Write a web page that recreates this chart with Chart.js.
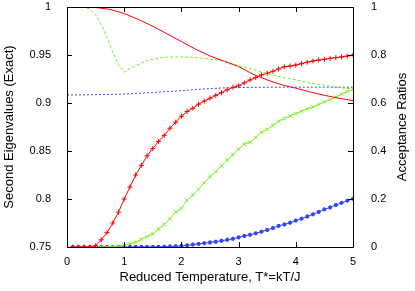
<!DOCTYPE html>
<html>
<head>
<meta charset="utf-8">
<script src="https://cdn.jsdelivr.net/npm/chart.js@4"></script>
<style>
html,body{margin:0;padding:0;background:#fff;}
#wrap{width:415px;height:291px;position:relative;}
</style>
</head>
<body>
<div id="wrap"><canvas id="c" width="415" height="291"></canvas></div>
<script>
// ---- Data ----
// Second eigenvalues (left axis)
const tEigRed = [0, 0.25, 0.5, 0.75, 1.0, 1.25, 1.5, 1.75, 2.0, 2.25, 2.5, 2.75, 3.0, 3.25, 3.5, 3.75, 4.0, 4.25, 4.5, 4.75, 5.0];
const eigRed  = [1.0, 1.0, 0.9995, 0.9975, 0.9932, 0.987, 0.980, 0.972, 0.964, 0.956, 0.949, 0.9435, 0.938, 0.930, 0.924, 0.919, 0.9155, 0.9115, 0.908, 0.905, 0.9024];

const tEigGreen = [0, 0.2, 0.3, 0.4, 0.5, 0.6, 0.7, 0.8, 0.9, 1.0, 1.1, 1.2, 1.4, 1.6, 1.8, 2.0, 2.2, 2.4, 2.6, 2.8, 3.0, 3.25, 3.5, 3.75, 4.0, 4.25, 4.5, 4.75, 5.0];
const eigGreen  = [1.0, 1.0, 0.9995, 0.998, 0.992, 0.982, 0.968, 0.953, 0.940, 0.932, 0.936, 0.939, 0.944, 0.947, 0.948, 0.948, 0.9476, 0.9465, 0.945, 0.9424, 0.939, 0.935, 0.9305, 0.927, 0.924, 0.921, 0.9185, 0.916, 0.9146];

const tEigBlue = [0, 0.5, 1.0, 1.5, 2.0, 2.5, 3.0, 3.5, 4.0, 4.5, 5.0];
const eigBlue  = [0.9083, 0.9087, 0.9093, 0.911, 0.9128, 0.915, 0.9162, 0.9164, 0.9165, 0.9165, 0.9165];

// Acceptance ratios (right axis)
const tAcc = [0.1,0.2,0.3,0.4,0.5,0.6,0.7,0.8,0.9,1.0,1.1,1.2,1.3,1.4,1.5,1.6,1.7,1.8,1.9,2.0,2.1,2.2,2.3,2.4,2.5,2.6,2.7,2.8,2.9,3.0,3.1,3.2,3.3,3.4,3.5,3.6,3.7,3.8,3.9,4.0,4.1,4.2,4.3,4.4,4.5,4.6,4.7,4.8,4.9,5.0];
const accRed = [0,0,0,0,0.005,0.03,0.06,0.10,0.145,0.20,0.25,0.30,0.34,0.38,0.41,0.44,0.465,0.495,0.52,0.545,0.565,0.578,0.595,0.608,0.62,0.632,0.643,0.655,0.665,0.672,0.684,0.696,0.706,0.717,0.724,0.732,0.742,0.751,0.754,0.758,0.764,0.77,0.775,0.779,0.782,0.786,0.789,0.792,0.796,0.80];
const accGreen = [0,0,0,0,0,0,0,0.002,0.004,0.008,0.013,0.02,0.032,0.043,0.055,0.075,0.094,0.118,0.146,0.16,0.196,0.217,0.24,0.268,0.293,0.314,0.338,0.362,0.385,0.408,0.429,0.436,0.457,0.478,0.49,0.507,0.524,0.535,0.546,0.556,0.566,0.575,0.584,0.594,0.604,0.614,0.625,0.637,0.647,0.657];
const accBlue = [0,0,0,0,0,0,0,0,0,0,0,0,0,0,0,0,0.001,0.002,0.003,0.004,0.007,0.01,0.013,0.016,0.019,0.022,0.026,0.03,0.034,0.04,0.046,0.051,0.057,0.064,0.071,0.079,0.088,0.094,0.101,0.11,0.118,0.127,0.136,0.146,0.157,0.165,0.175,0.184,0.193,0.201];

// Axis text
const xTitle = 'Reduced Temperature, T*=kT/J';
const yTitle = 'Second Eigenvalues (Exact)';
const y2Title = 'Acceptance Ratios';

const RED = '#ff0000', GREEN = '#77ee22', BLUE = '#3344ff';
const FONT = "'Liberation Sans', Arial, Helvetica, sans-serif";

function pts(xs, ys){ return xs.map((x,i)=>({x:x, y:ys[i]})); }
function fmt(v){ return String(parseFloat(Number(v).toFixed(2))); }
function noPad(s){ s.paddingTop = 0; s.paddingBottom = 0; s.paddingLeft = 0; s.paddingRight = 0; }

const framePlugin = {
  id: 'frame',
  afterDraw(chart){
    const ctx = chart.ctx, a = chart.chartArea;
    const sx = chart.scales.x, sy = chart.scales.y, sy2 = chart.scales.y1;
    ctx.save();
    ctx.strokeStyle = '#000';
    ctx.lineWidth = 1;
    ctx.beginPath();
    ctx.rect(Math.round(a.left)+0.5, Math.round(a.top)+0.5, Math.round(a.right-a.left), Math.round(a.bottom-a.top));
    ctx.stroke();
    const L = 5;
    ctx.beginPath();
    sx.ticks.forEach(t=>{
      const px = Math.round(sx.getPixelForValue(t.value))+0.5;
      ctx.moveTo(px, a.bottom); ctx.lineTo(px, a.bottom-L);
      ctx.moveTo(px, a.top); ctx.lineTo(px, a.top+L);
    });
    sy.ticks.forEach(t=>{
      const py = Math.round(sy.getPixelForValue(t.value))+0.5;
      ctx.moveTo(a.left, py); ctx.lineTo(a.left+L, py);
    });
    sy2.ticks.forEach(t=>{
      const py = Math.round(sy2.getPixelForValue(t.value))+0.5;
      ctx.moveTo(a.right, py); ctx.lineTo(a.right-L, py);
    });
    ctx.stroke();
    // right axis title, reading bottom to top
    ctx.fillStyle = '#000';
    ctx.font = '13px ' + FONT;
    ctx.textAlign = 'center';
    ctx.textBaseline = 'middle';
    ctx.translate(402, (a.top+a.bottom)/2);
    ctx.rotate(-Math.PI/2);
    ctx.fillText(y2Title, 0, 0);
    ctx.restore();
  }
};

new Chart(document.getElementById('c'), {
  type: 'line',
  data: {
    datasets: [
      {data: pts(tEigRed, eigRed), yAxisID:'y', borderColor: RED, borderWidth:1, pointRadius:0, fill:false},
      {data: pts(tEigGreen, eigGreen), yAxisID:'y', borderColor: GREEN, borderWidth:1, borderDash:[3,2], pointRadius:0, fill:false},
      {data: pts(tEigBlue, eigBlue), yAxisID:'y', borderColor: BLUE, borderWidth:1, borderDash:[2,2], pointRadius:0, fill:false, cubicInterpolationMode:'monotone'},
      {data: pts(tAcc, accRed), yAxisID:'y1', borderColor: RED, backgroundColor: RED, borderWidth:1, pointStyle:'cross', pointRadius:2.5, pointBorderWidth:1, fill:false},
      {data: pts(tAcc, accGreen), yAxisID:'y1', borderColor: GREEN, backgroundColor: GREEN, borderWidth:1, pointStyle:'crossRot', pointRadius:2.5, pointBorderWidth:1, fill:false},
      {data: pts(tAcc, accBlue), yAxisID:'y1', borderColor: BLUE, backgroundColor: BLUE, borderWidth:1, pointStyle:'star', pointRadius:2, pointBorderWidth:1.5, fill:false}
    ]
  },
  options: {
    responsive: false,
    animation: false,
    events: [],
    layout: { padding: {top: 7, left: 0, right: 0, bottom: 0} },
    plugins: { legend: {display:false}, tooltip: {enabled:false} },
    scales: {
      x: {
        type: 'linear', min: 0, max: 5,
        grid: {display:false}, border: {display:false},
        ticks: {stepSize: 1, color:'#000', padding: 0, font:{family:FONT, size:11}, maxRotation:0, callback: fmt},
        title: {display:true, text:xTitle, color:'#000', font:{family:FONT, size:13}, padding:{top:0,bottom:6}},
        afterFit(s){ s.height = 44; noPad(s); }
      },
      y: {
        position:'left', min: 0.75, max: 1,
        grid: {display:false}, border: {display:false},
        ticks: {stepSize: 0.05, color:'#000', padding: 8, font:{family:FONT, size:11}, callback: fmt},
        title: {display:true, text:yTitle, color:'#000', font:{family:FONT, size:13}, padding:{top:2,bottom:0}},
        afterFit(s){ s.width = 67; noPad(s); }
      },
      y1: {
        position:'right', min: 0, max: 1,
        grid: {display:false}, border: {display:false},
        ticks: {stepSize: 0.2, color:'#000', padding: 10, font:{family:FONT, size:11}, callback: fmt},
        afterFit(s){ s.width = 62; noPad(s); }
      }
    }
  },
  plugins: [framePlugin]
});
</script>
</body>
</html>
